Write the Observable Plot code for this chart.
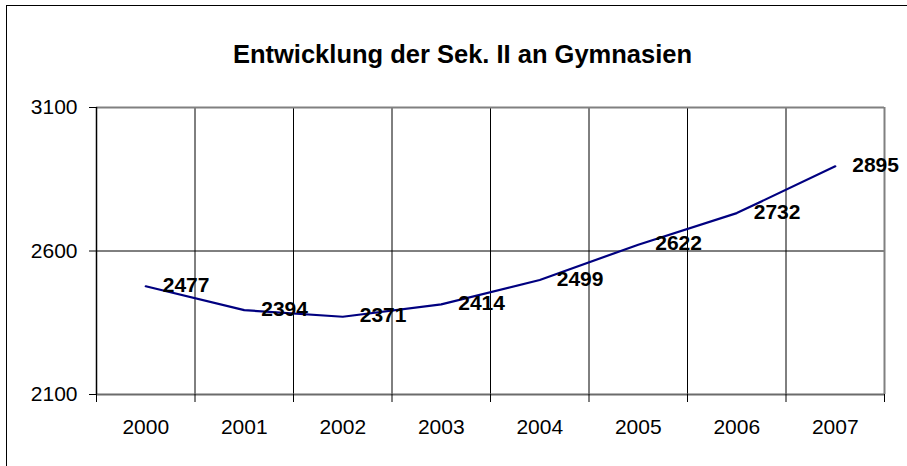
<!DOCTYPE html>
<html><head><meta charset="utf-8">
<script src="https://cdn.jsdelivr.net/npm/d3@7"></script>
<script src="https://cdn.jsdelivr.net/npm/@observablehq/plot@0.6"></script>
<style>
body{margin:0;background:#fff;}
#wrap{position:relative;width:907px;height:466px;overflow:hidden;}
#border{position:absolute;left:6px;top:5px;width:1000px;height:1000px;border:1px solid #000;pointer-events:none;}
#wrap svg{position:absolute;left:0;top:0;}
</style></head><body>
<div id="wrap"><div id="border"></div></div>
<script>
const title = "Entwicklung der Sek. II an Gymnasien";
const years = ["2000","2001","2002","2003","2004","2005","2006","2007"];
const values = [2477, 2394, 2371, 2414, 2499, 2622, 2732, 2895];
const yTicks = [2100, 2600, 3100];

const data = years.map((year, i) => ({i, year, value: values[i]}));
const bounds = d3.range(years.length + 1).map(i => i - 0.5);
const inner = bounds.slice(1, -1);
const yMin = yTicks[0], yMax = yTicks[yTicks.length - 1];

const chart = Plot.plot({
  width: 907, height: 466,
  marginLeft: 96, marginRight: 23, marginTop: 107, marginBottom: 72,
  style: {fontFamily: "'Liberation Sans', Arial, sans-serif", fontSize: "21px", color: "#000", background: "transparent", overflow: "visible"},
  x: {type: "linear", domain: [bounds[0], bounds[bounds.length - 1]], label: null},
  y: {domain: [yMin, yMax], label: null},
  marks: [
    // gridlines
    Plot.ruleY(yTicks.slice(1, -1), {stroke: "#000", strokeWidth: 1, strokeOpacity: 1}),
    Plot.ruleX(inner, {y1: yMin, y2: yMax, stroke: "#000", strokeWidth: 1, strokeOpacity: 1}),
    // plot area frame
    Plot.ruleY([yMax], {stroke: "#808080", strokeWidth: 2}),
    Plot.ruleX([bounds[bounds.length - 1]], {y1: yMin, y2: yMax, stroke: "#808080", strokeWidth: 2}),
    Plot.ruleY([yMin], {stroke: "#6b6b6b", strokeWidth: 2}),
    Plot.ruleX([bounds[0]], {y1: yMin, y2: yMax, stroke: "#000", strokeWidth: 1.5}),
    // axes
    Plot.axisY({ticks: yTicks, tickSize: 7, tickPadding: 12, tickFormat: d => String(d), fontSize: 21, stroke: "#000", strokeOpacity: 1, label: null}),
    Plot.axisX({ticks: bounds, tickSize: 8, tickFormat: () => "", stroke: "#000", strokeOpacity: 1, label: null}),
    Plot.axisX({ticks: d3.range(years.length), tickSize: 0, tickPadding: 25, tickFormat: i => years[i], fontSize: 21, label: null}),
    // series
    Plot.line(data, {x: "i", y: "value", stroke: "#000080", strokeWidth: 2.2}),
    Plot.text(data, {x: "i", y: "value", text: d => String(d.value), textAnchor: "start", dx: 17, dy: -1, fontWeight: "bold", fontSize: 21, fill: "#000"}),
    // title
    Plot.text([title], {frameAnchor: "top", dy: -63, dx: -28, fontWeight: "bold", fontSize: 25.5, fill: "#000"})
  ]
});
document.getElementById("wrap").appendChild(chart);
</script>
</body></html>
